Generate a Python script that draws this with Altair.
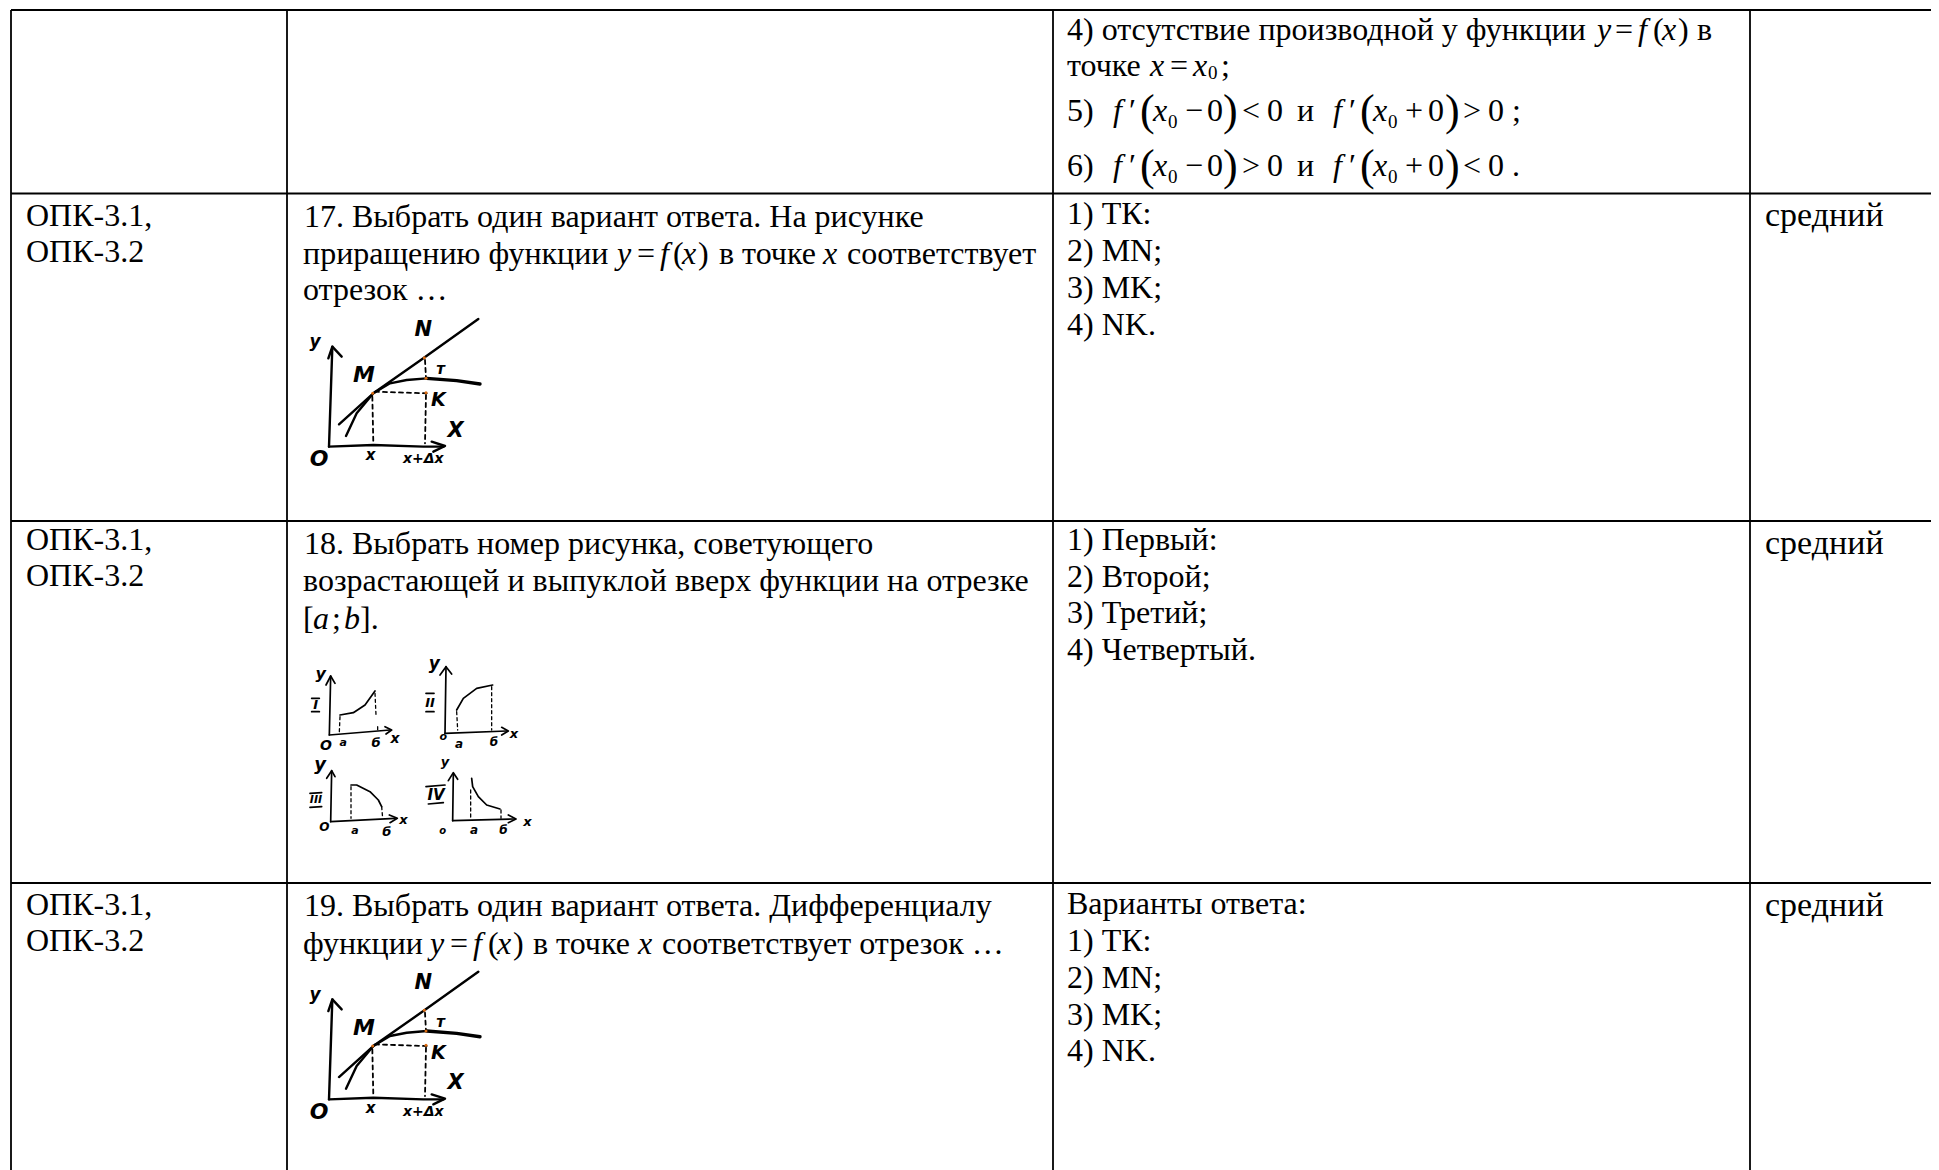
import altair as alt
import pandas as pd

W, H = 1931, 1170
X_SCALE = alt.Scale(domain=[8, W], nice=False, zero=False)
Y_SCALE = alt.Scale(domain=[H, 8], nice=False, zero=False)
FS = 32

# table grid lines
h_lines = [10, 193.5, 521, 883]
v_lines = [11, 287, 1053, 1750]

# text runs: x, baseline, text
upright = [
 (1067, 40, "4) отсутствие производной у функции"), (1615, 40, "="), (1653, 40, "("), (1678, 40, ")"), (1697, 40, "в"),
 (1067, 76, "точке"), (1170, 76, "="), (1221, 76, ";"),
 (1067, 121, "5)"), (1067, 176, "6)"),
 (26, 226, "ОПК-3.1,"), (26, 262, "ОПК-3.2"),
 (304, 226.5, "17. Выбрать один вариант ответа. На рисунке"),
 (303, 264, "приращению функции"), (637, 264, "="), (673, 264, "("), (698, 264, ")"), (719, 264, "в точке"),
 (847, 264, "соответствует"), (303, 300, "отрезок …"),
 (1067, 224, "1) ТК:"), (1067, 261, "2) MN;"), (1067, 298, "3) MK;"), (1067, 335, "4) NK."),
 (26, 550, "ОПК-3.1,"), (26, 586, "ОПК-3.2"),
 (304, 554, "18. Выбрать номер рисунка, советующего"),
 (303, 591, "возрастающей и выпуклой вверх функции на отрезке"),
 (303, 629, "["), (332, 629, ";"), (360, 629, "]."),
 (1067, 550, "1) Первый:"), (1067, 587, "2) Второй;"), (1067, 623, "3) Третий;"), (1067, 660, "4) Четвертый."),
 (26, 915, "ОПК-3.1,"), (26, 951, "ОПК-3.2"),
 (304, 916, "19. Выбрать один вариант ответа. Дифференциалу"),
 (303, 954, "функции"), (450, 954, "="), (488, 954, "("), (513, 954, ")"), (533, 954, "в точке"), (662, 954, "соответствует отрезок …"),
 (1067, 914, "Варианты ответа:"), (1067, 951, "1) ТК:"), (1067, 988, "2) MN;"), (1067, 1025, "3) MK;"), (1067, 1061, "4) NK."),
]
level_labels = [(1765, 226, "средний"), (1765, 554, "средний"), (1765, 916, "средний")]
italic = [
 (1597, 40, "y"), (1638, 40, "f"), (1662, 40, "x"),
 (1150, 76, "x"), (1193, 76, "x"),
 (617, 264, "y"), (660, 264, "f"), (682, 264, "x"), (823, 264, "x"),
 (313, 629, "a"), (344, 629, "b"),
 (430, 954, "y"), (473, 954, "f"), (497, 954, "x"), (638, 954, "x"),
]
small_upright = [(1208, 79, "0")]

# formula lines 5) and 6)
formula_base = [121, 176]
formula_cmp = [("<", ">"), (">", "<")]
formula_end = [";", "."]
f_x = [1113, 1333]
prime_x = [1129, 1349]
xvar_x = [1153, 1373]
sub_x = [1168, 1388]
op_x = [1185, 1405]
op_text = ["−", "+"]
zero_x = [1207, 1428]
open_x = [1140, 1360]
close_x = [1223, 1445]
cmp_x = [1242, 1463]
res_x = [1267, 1488]
conj_x = 1297
end_x = 1512
for b, (c1, c2), e in zip(formula_base, formula_cmp, formula_end):
    for i in range(2):
        italic.append((f_x[i], b, "f"))
        italic.append((xvar_x[i], b, "x"))
        upright.append((prime_x[i], b, "′"))
        upright.append((op_x[i], b, op_text[i]))
        upright.append((zero_x[i], b, "0"))
        upright.append((cmp_x[i], b, (c1, c2)[i]))
        upright.append((res_x[i], b, "0"))
        small_upright.append((sub_x[i], b + 7, "0"))
    upright.append((conj_x, b, "и"))
    upright.append((end_x, b, e))
big_paren = [(x, b + 4, t) for b in formula_base for x, t in
             [(open_x[0], "("), (close_x[0], ")"), (open_x[1], "("), (close_x[1], ")")]]

# hand sketch of the graph (row 17 / 19); read in a 3x crop
sk_solid = [
 [(117,410),(127,110)], [(115,145),(127,110),(155,140)],
 [(117,410),(250,405),(400,410),(460,410)], [(425,395),(465,408),(430,425)],
 [(147,343),(250,250),(400,145),(565,27)],
 [(168,378),(200,310),(250,250),(300,220),(350,210),(410,205)],
]
sk_thick = [[(410,205),(500,212),(570,222)]]
sk_dash = [[(247,260),(250,400)], [(255,245),(410,250)], [(405,150),(408,205)], [(408,255),(405,400)]]
sk_dots = [(248,250),(403,143),(408,205),(408,248)]
sk_labels = [(400,60,"N",21),(222,195,"M",22),(452,178,"т",15),(445,270,"K",19),(497,362,"X",21),
             (75,97,"y",17),(87,447,"O",22),(242,435,"x",15),(400,448,"x+Δx",14)]
sk_origins = [(290,310),(290,962.7)]

# four small graphs of row 18
sm_origin = (290,650)
sm_solid = [
 [(118,255),(122,78)],[(108,105),(122,78),(135,100)],[(118,255),(300,240)],[(285,230),(305,240),(288,252)],
 [(150,195),(190,188),(225,165),(255,123)],
 [(465,250),(468,50)],[(450,75),(468,50),(485,72)],[(465,250),(650,243)],[(635,232),(655,243),(635,255)],
 [(500,180),(520,145),(560,115),(608,105)],
 [(122,515),(125,362)],[(110,385),(125,362),(135,380)],[(122,515),(315,505)],[(298,495),(322,505),(300,518)],
 [(183,405),(200,405),(240,425),(265,450),(275,470)],
 [(488,512),(490,370)],[(475,392),(490,368),(503,388)],[(488,512),(670,507)],[(655,495),(678,507),(655,518)],
 [(545,385),(548,410),(565,440),(590,465),(630,477)],
 [(65,145),(88,145)],[(65,185),(88,185)],
 [(408,130),(432,130)],[(408,185),(432,185)],
 [(60,430),(95,428)],[(60,472),(95,470)],
 [(408,410),(465,405)],[(415,462),(460,458)],
]
sm_dash = [
 [(150,200),(148,245)],[(255,130),(258,195)],[(263,230),(263,240)],
 [(500,185),(503,240)],[(605,110),(605,240)],
 [(183,410),(183,505)],[(275,470),(278,505)],
 [(542,420),(542,505)],[(633,480),(633,505)],
]
sm_labels = [
 (92,72,"y",16),(77,165,"I",13),(108,287,"O",14),(160,278,"a",11),(258,278,"б",13),(315,268,"x",14),
 (433,42,"y",17),(420,158,"II",13),(460,262,"o",11),(507,282,"a",12),(612,275,"б",12),(672,253,"x",13),
 (90,345,"y",18),(78,451,"III",11),(103,530,"O",12),(195,542,"a",11),(290,545,"б",13),(340,510,"x",13),
 (465,335,"y",13),(438,435,"IV",15),(458,543,"o",10),(552,540,"a",12),(640,540,"б",12),(712,515,"x",13),
]


def strokes_df(groups, origin):
    rows = []
    for g, pts in enumerate(groups):
        for s, (px, py) in enumerate(pts):
            rows.append({"g": f"{origin}-{g}", "s": s, "x": origin[0] + px / 3, "y": origin[1] + py / 3})
    return rows


def line_layer(rows, width, dash=None):
    kw = dict(color="#000000", strokeWidth=width, strokeCap="round", strokeJoin="round", clip=True)
    if dash:
        kw["strokeDash"] = dash
    return alt.Chart(pd.DataFrame(rows)).mark_line(**kw).encode(
        x=alt.X("x:Q", scale=X_SCALE, axis=None),
        y=alt.Y("y:Q", scale=Y_SCALE, axis=None),
        detail="g:N", order="s:Q")


def text_layer(rows, size, style="normal", font="Liberation Serif", align="left", baseline="alphabetic"):
    df = pd.DataFrame(rows, columns=["x", "y", "t"])
    return alt.Chart(df).mark_text(font=font, fontSize=size, fontStyle=style,
                                   align=align, baseline=baseline, color="#000000").encode(
        x=alt.X("x:Q", scale=X_SCALE, axis=None),
        y=alt.Y("y:Q", scale=Y_SCALE, axis=None),
        text="t:N")


layers = []
# grid
h_df = pd.DataFrame({"y": h_lines, "x": [v_lines[0]] * len(h_lines), "x2": [W] * len(h_lines)})
v_df = pd.DataFrame({"x": v_lines, "y": [h_lines[0]] * len(v_lines), "y2": [H] * len(v_lines)})
layers.append(alt.Chart(h_df).mark_rule(color="#000000", strokeWidth=2.2).encode(
    x=alt.X("x:Q", scale=X_SCALE, axis=None), x2="x2:Q", y=alt.Y("y:Q", scale=Y_SCALE, axis=None)))
layers.append(alt.Chart(v_df).mark_rule(color="#000000", strokeWidth=1.8).encode(
    x=alt.X("x:Q", scale=X_SCALE, axis=None), y=alt.Y("y:Q", scale=Y_SCALE, axis=None), y2="y2:Q"))
# text
layers.append(text_layer(upright, FS))
layers.append(text_layer(level_labels, 34))
layers.append(text_layer(italic, FS, style="italic"))
layers.append(text_layer(small_upright, 19))
layers.append(text_layer(big_paren, 44))
# sketches
solid, thick, dash, dots, labels = [], [], [], [], []
for o in sk_origins:
    solid += strokes_df(sk_solid, o)
    thick += strokes_df(sk_thick, o)
    dash += strokes_df(sk_dash, o)
    dots += [{"x": o[0] + p[0] / 3, "y": o[1] + p[1] / 3} for p in sk_dots]
    labels += [{"x": o[0] + l[0] / 3, "y": o[1] + l[1] / 3, "t": l[2], "size": l[3]} for l in sk_labels]
solid_sm = strokes_df(sm_solid, sm_origin)
dash_sm = strokes_df(sm_dash, sm_origin)
labels += [{"x": sm_origin[0] + l[0] / 3, "y": sm_origin[1] + l[1] / 3, "t": l[2], "size": l[3]} for l in sm_labels]

layers.append(line_layer(solid, 2.4))
layers.append(line_layer(thick, 3.4))
layers.append(line_layer(dash, 1.8, [4, 4]))
layers.append(line_layer(solid_sm, 1.7))
layers.append(line_layer(dash_sm, 1.3, [3, 3]))
layers.append(alt.Chart(pd.DataFrame(dots)).mark_circle(color="#d9690f", size=9, opacity=1).encode(
    x=alt.X("x:Q", scale=X_SCALE, axis=None), y=alt.Y("y:Q", scale=Y_SCALE, axis=None)))
layers.append(alt.Chart(pd.DataFrame(labels)).mark_text(
    font="DejaVu Sans", fontStyle="italic", fontWeight="bold", align="center", baseline="middle", color="#000000").encode(
    x=alt.X("x:Q", scale=X_SCALE, axis=None), y=alt.Y("y:Q", scale=Y_SCALE, axis=None),
    text="t:N", size=alt.Size("size:Q", scale=None, legend=None)))

chart = alt.layer(*layers).properties(
    width=W - 8, height=H - 8, padding=0,
    autosize=alt.AutoSizeParams(type="none"), background="#ffffff"
).configure_view(stroke=None)
chart.save("out.html", embed_options={"renderer": "svg", "actions": False})
